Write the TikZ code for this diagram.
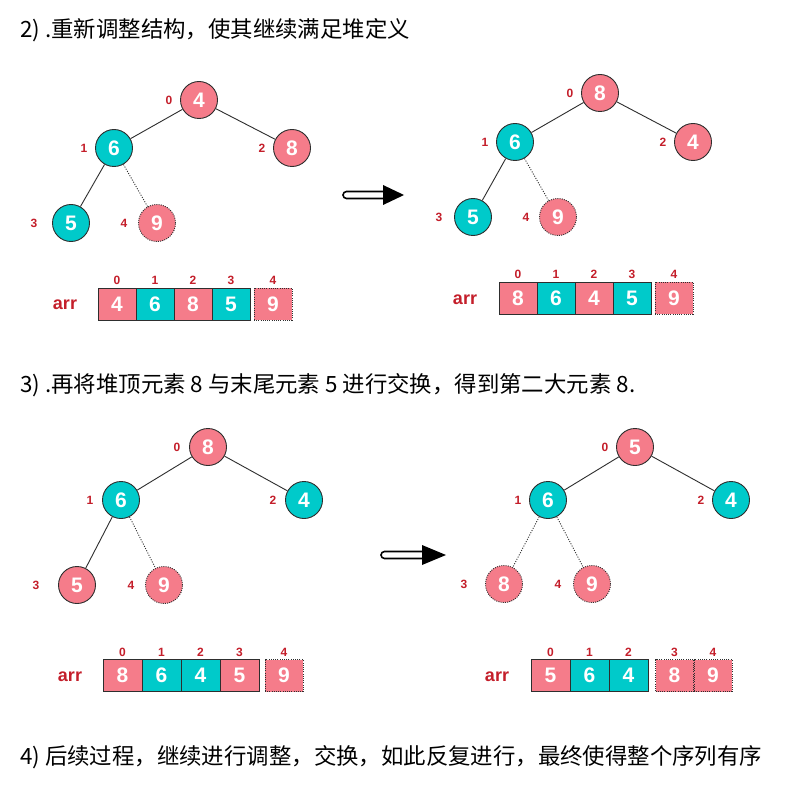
\documentclass[tikz,border=0pt]{standalone}
\usepackage{fontspec}
\setmainfont{Liberation Sans}
\newfontfamily\cjk{Noto Sans CJK SC}
\usetikzlibrary{positioning}

\definecolor{heapred}{HTML}{F57C8A}
\definecolor{heapteal}{HTML}{00CACA}
\definecolor{idxred}{HTML}{C41E2A}
\definecolor{linegray}{HTML}{2E2E2E}

\tikzset{
    heapnode/.style={circle, draw=linegray, line width=0.9pt, minimum size=37pt, inner sep=0pt,
        text=white, font=\fontsize{21}{23}\selectfont\bfseries},
    rednode/.style={heapnode, fill=heapred},
    tealnode/.style={heapnode, fill=heapteal},
    dotnode/.style={rednode, dash pattern=on 1pt off 1.2pt},
    cell/.style={rectangle, draw=linegray, line width=0.9pt, minimum width=38pt, minimum height=32pt,
        inner sep=0pt, text=white, font=\fontsize{21}{23}\selectfont\bfseries},
    redcell/.style={cell, fill=heapred},
    tealcell/.style={cell, fill=heapteal},
    dotcell/.style={redcell, dash pattern=on 1pt off 1.2pt},
    idx/.style={text=idxred, inner sep=2.5pt, font=\fontsize{12}{13}\selectfont\bfseries},
    arrlabel/.style={text=idxred, font=\fontsize{18}{20}\selectfont\bfseries},
    heading/.style={anchor=west, inner sep=0pt, font=\cjk\fontsize{22.4}{25}\selectfont},
    edge/.style={draw=linegray, line width=0.9pt},
    dotedge/.style={edge, dash pattern=on 1pt off 1.5pt},
    shaft/.style={line width=1.6pt, fill=white},
}

\begin{document}
\begin{tikzpicture}[x=1pt, y=-1pt]
    \useasboundingbox[fill=white] (0,0) rectangle (799,810);

    % Headings
    \node[heading] (h2) at (20,30) {2) .重新调整结构，使其继续满足堆定义};
    \node[heading] (h3) at (20,385) {3) .再将堆顶元素 8 与末尾元素 5 进行交换，得到第二大元素 8.};
    \node[heading] (h4) at (20,757) {4) 后续过程，继续进行调整，交换，如此反复进行，最终使得整个序列有序};

    % Tree A (top left)
    \node[rednode, label={[idx, label distance=5pt]left:0}] (a0) at (199,100) {4};
    \node[tealnode, label={[idx, label distance=5pt]left:1}] (a1) at (114,148) {6};
    \node[rednode, label={[idx, label distance=5pt]left:2}] (a2) at (292,148) {8};
    \node[tealnode, label={[idx, label distance=12pt]left:3}] (a3) at (71,223) {5};
    \node[dotnode, label={[idx, label distance=8pt]left:4}] (a4) at (157,223) {9};
    \draw[edge] (a0) -- (a1);
    \draw[edge] (a0) -- (a2);
    \draw[edge] (a1) -- (a3);
    \draw[dotedge] (a1) -- (a4);

    % Array A
    \node[arrlabel] (aarr) at (65,305) {arr};
    \node[redcell, label={[idx]above:0}] (ac0) at (117,304) {4};
    \node[tealcell, label={[idx]above:1}] (ac1) at (155,304) {6};
    \node[redcell, label={[idx]above:2}] (ac2) at (193,304) {8};
    \node[tealcell, label={[idx]above:3}] (ac3) at (231,304) {5};
    \node[dotcell, label={[idx]above:4}] (ac4) at (273,304) {9};

    % Arrow A
    \draw[shaft] (386,191.5) -- (346.5,191.5) arc[start angle=270, end angle=90, radius=3.5] -- (386,198.5);
    \fill (383,185) -- (404,195) -- (383,205) -- cycle;

    % Tree B (top right)
    \node[rednode, label={[idx, label distance=5pt]left:0}] (b0) at (600,93) {8};
    \node[tealnode, label={[idx, label distance=5pt]left:1}] (b1) at (515,142) {6};
    \node[rednode, label={[idx, label distance=5pt]left:2}] (b2) at (693,142) {4};
    \node[tealnode, label={[idx, label distance=9pt]left:3}] (b3) at (473,217) {5};
    \node[dotnode, label={[idx, label distance=7pt]left:4}] (b4) at (558,217) {9};
    \draw[edge] (b0) -- (b1);
    \draw[edge] (b0) -- (b2);
    \draw[edge] (b1) -- (b3);
    \draw[dotedge] (b1) -- (b4);

    % Array B
    \node[arrlabel] (barr) at (465,300) {arr};
    \node[redcell, label={[idx]above:0}] (bc0) at (518,298) {8};
    \node[tealcell, label={[idx]above:1}] (bc1) at (556,298) {6};
    \node[redcell, label={[idx]above:2}] (bc2) at (594,298) {4};
    \node[tealcell, label={[idx]above:3}] (bc3) at (632,298) {5};
    \node[dotcell, label={[idx]above:4}] (bc4) at (674,298) {9};

    % Tree C (bottom left)
    \node[rednode, label={[idx, label distance=6pt]left:0}] (c0) at (208,447) {8};
    \node[tealnode, label={[idx, label distance=6pt]left:1}] (c1) at (121,500) {6};
    \node[tealnode, label={[idx, label distance=6pt]left:2}] (c2) at (304,500) {4};
    \node[rednode, label={[idx, label distance=16pt]left:3}] (c3) at (77,585) {5};
    \node[dotnode, label={[idx, label distance=8pt]left:4}] (c4) at (164,585) {9};
    \draw[edge] (c0) -- (c1);
    \draw[edge] (c0) -- (c2);
    \draw[edge] (c1) -- (c3);
    \draw[dotedge] (c1) -- (c4);

    % Array C
    \node[arrlabel] (carr) at (70,677) {arr};
    \node[redcell, minimum width=39pt, label={[idx]above:0}] (cc0) at (122.5,675.5) {8};
    \node[tealcell, minimum width=39pt, label={[idx]above:1}] (cc1) at (161.5,675.5) {6};
    \node[tealcell, minimum width=39pt, label={[idx]above:2}] (cc2) at (200.5,675.5) {4};
    \node[redcell, minimum width=39pt, label={[idx]above:3}] (cc3) at (239.5,675.5) {5};
    \node[dotcell, label={[idx]above:4}] (cc4) at (284,675.5) {9};

    % Arrow C
    \draw[shaft] (425,551.5) -- (384.5,551.5) arc[start angle=270, end angle=90, radius=3.5] -- (425,558.5);
    \fill (422,545) -- (446,555) -- (422,565) -- cycle;

    % Tree D (bottom right)
    \node[rednode, label={[idx, label distance=5pt]left:0}] (d0) at (635,447) {5};
    \node[tealnode, label={[idx, label distance=5pt]left:1}] (d1) at (548,500) {6};
    \node[tealnode, label={[idx, label distance=5pt]left:2}] (d2) at (731,500) {4};
    \node[dotnode, label={[idx, label distance=15pt]left:3}] (d3) at (504,584) {8};
    \node[dotnode, label={[idx, label distance=9pt]left:4}] (d4) at (592,584) {9};
    \draw[edge] (d0) -- (d1);
    \draw[edge] (d0) -- (d2);
    \draw[dotedge] (d1) -- (d3);
    \draw[dotedge] (d1) -- (d4);

    % Array D
    \node[arrlabel] (darr) at (497,677) {arr};
    \node[redcell, minimum width=39pt, label={[idx]above:0}] (dc0) at (550.5,675.5) {5};
    \node[tealcell, minimum width=39pt, label={[idx]above:1}] (dc1) at (589.5,675.5) {6};
    \node[tealcell, minimum width=39pt, label={[idx]above:2}] (dc2) at (628.5,675.5) {4};
    \node[dotcell, label={[idx]above:3}] (dc3) at (674.5,675.5) {8};
    \node[dotcell, label={[idx]above:4}] (dc4) at (713,675.5) {9};
\end{tikzpicture}
\end{document}
